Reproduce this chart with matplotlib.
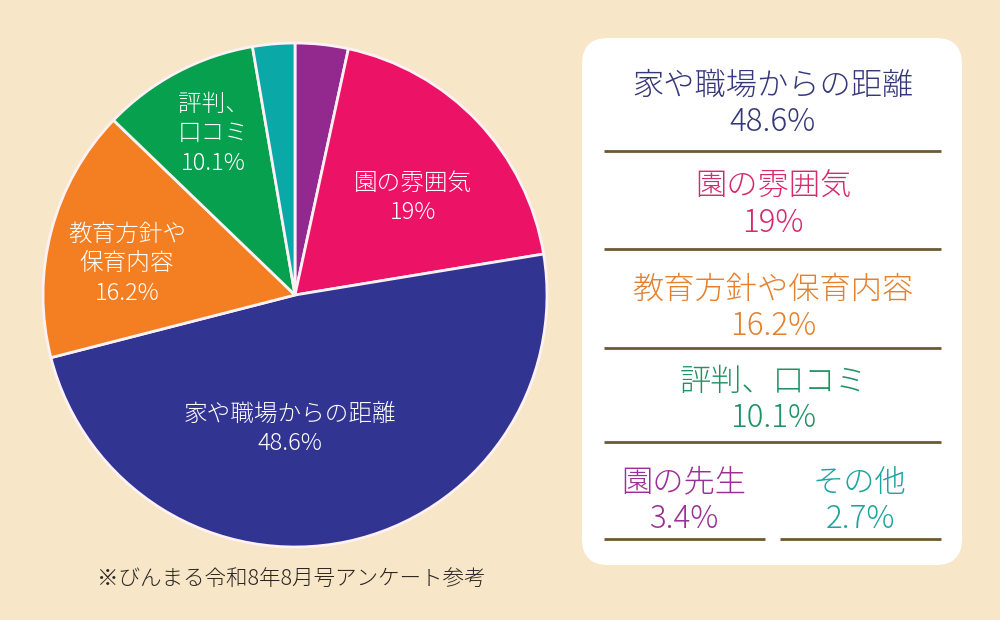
import matplotlib.pyplot as plt
from matplotlib.patches import FancyBboxPatch

plt.rcParams['font.family'] = ['Noto Sans CJK JP', 'DejaVu Sans']

# data (clockwise from 12 o'clock)
categories = ["園の先生", "園の雰囲気", "家や職場からの距離", "教育方針や保育内容", "評判、口コミ", "その他"]
values = [3.4, 19, 48.6, 16.2, 10.1, 2.7]
value_labels = ["3.4%", "19%", "48.6%", "16.2%", "10.1%", "2.7%"]
pie_names = [None, "園の雰囲気", "家や職場からの距離", "教育方針や\n保育内容", "評判、\n口コミ", None]
colors = ["#93288e", "#ec1266", "#323492", "#f47f22", "#06a04f", "#0aa9a8"]
text_colors = ["#9b2f96", "#d62a6c", "#353878", "#e4812e", "#1e9262", "#1fa3a0"]
note = "※びんまる令和8年8月号アンケート参考"

fig = plt.figure(figsize=(10, 6.2), dpi=100)
fig.patch.set_facecolor("#f7e6c8")
ax = fig.add_axes([0, 0, 1, 1])

# pie
cx, cy, r = 295, 325, 252
ax.pie(values, colors=colors, startangle=90, counterclock=False,
       center=(cx, cy), radius=r, frame=True,
       wedgeprops=dict(edgecolor="#fdf1f4", linewidth=2))
ax.set_xlim(0, 1000)
ax.set_ylim(0, 620)
ax.set_aspect("equal")
ax.axis("off")

# labels inside the pie (pixel positions, y measured from top)
label_pos = {1: (413, 198), 2: (290, 429), 3: (127, 264), 4: (213, 134)}
for i, (x, y) in label_pos.items():
    ax.text(x, 620 - y, pie_names[i] + "\n" + value_labels[i], color="white",
            fontsize=17, fontweight="light", ha="center", va="center", linespacing=1.25)

# right panel
panel = FancyBboxPatch((582, 55), 380, 527, boxstyle="round,pad=0,rounding_size=26",
                       facecolor="white", edgecolor="none")
ax.add_patch(panel)

line_col = "#6e5a32"
rows = [(2, 104), (1, 205), (3, 308), (4, 400)]
for i, y in rows:
    ax.text(773, 620 - y, categories[i] + "\n" + value_labels[i], color=text_colors[i],
            fontsize=22.5, fontweight="light", ha="center", va="center", linespacing=1.18)
for y in [151, 249, 348, 442]:
    ax.plot([604, 941], [620 - y, 620 - y], color=line_col, lw=2, solid_capstyle="butt")

for i, x, x0, x1 in [(0, 684, 604, 765), (5, 860, 780, 941)]:
    ax.text(x, 620 - 501, categories[i] + "\n" + value_labels[i], color=text_colors[i],
            fontsize=22.5, fontweight="light", ha="center", va="center", linespacing=1.18)
    ax.plot([x0, x1], [620 - 539, 620 - 539], color=line_col, lw=2, solid_capstyle="butt")

ax.text(291, 620 - 579, note, color="#2a2520", fontsize=15.5, fontweight="light",
        ha="center", va="center")

fig.savefig("out.png", dpi=100, facecolor=fig.get_facecolor())
